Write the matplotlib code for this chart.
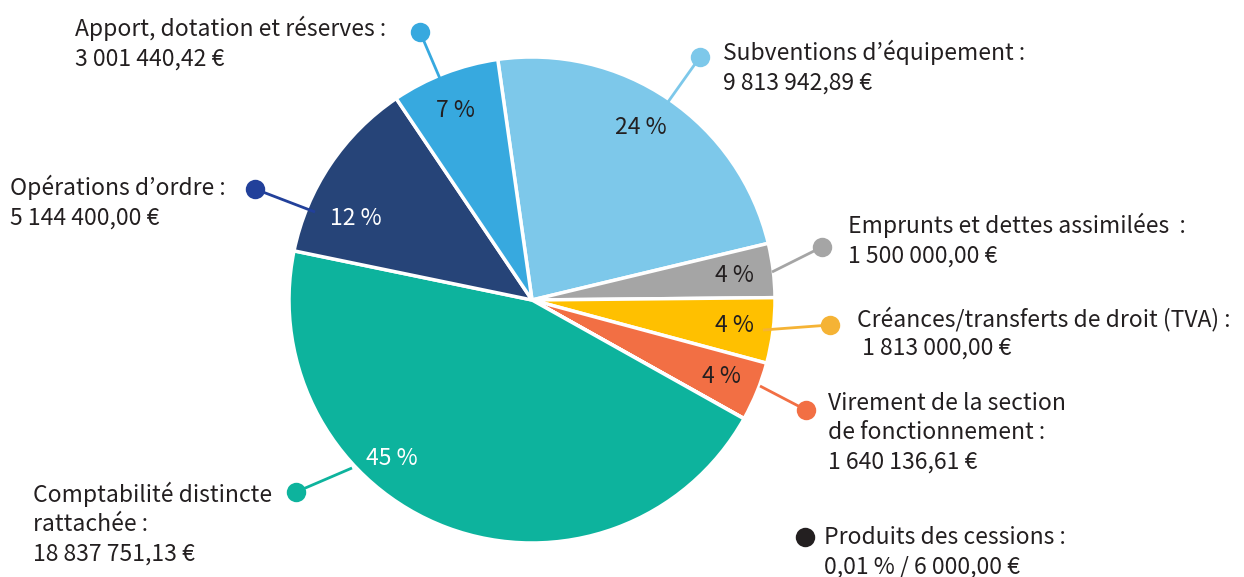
import matplotlib
matplotlib.use("Agg")
import matplotlib.pyplot as plt
import numpy as np

plt.rcParams['font.family'] = ['Noto Sans CJK KR', 'DejaVu Sans']

# données (sens horaire depuis le haut)
postes = ["Subventions d’équipement", "Emprunts et dettes assimilées", "Créances/transferts de droit (TVA)",
          "Virement de la section de fonctionnement", "Produits des cessions",
          "Comptabilité distincte rattachée", "Opérations d’ordre", "Apport, dotation et réserves"]
montants = [9813942.89, 1500000.00, 1813000.00, 1640136.61, 6000.00, 18837751.13, 5144400.00, 3001440.42]
couleurs = ["#7DC8EA", "#A5A5A5", "#FFC000", "#F26F44", "#231F20", "#0DB39D", "#264478", "#37A9DF"]
couleurs_point = ["#7DC8EA", "#A5A5A5", "#F5B335", "#F26F44", "#231F20", "#0DB39D", "#22409A", "#37A9DF"]
etiquettes = ["Subventions d’équipement :\n9 813 942,89 €",
              "Emprunts et dettes assimilées  :\n1 500 000,00 €",
              "Créances/transferts de droit (TVA) :\n 1 813 000,00 €",
              "Virement de la section\nde fonctionnement :\n1 640 136,61 €",
              "Produits des cessions :\n0,01 % / 6 000,00 €",
              "Comptabilité distincte\nrattachée :\n18 837 751,13 €",
              "Opérations d’ordre :\n5 144 400,00 €",
              "Apport, dotation et réserves :\n3 001 440,42 €"]

W, H = 1244, 577
fig = plt.figure(figsize=(W / 100, H / 100), dpi=100)
ax = fig.add_axes([0, 0, 1, 1])

cx, cy, R = 532, H - 300, 243
total = sum(montants)
wedges, _ = ax.pie(montants, colors=couleurs, startangle=98.1, counterclock=False,
                   center=(cx, cy), radius=R, frame=True,
                   wedgeprops=dict(edgecolor="white", linewidth=2.5))
ax.set_xlim(0, W)
ax.set_ylim(0, H)
ax.axis("off")

# pourcentages dans les parts
decal_angle = [2, 0, 0, 0, None, -21, 9, 1]
dist_pct = [0.84, 0.84, 0.84, 0.84, 0, 0.87, 0.80, 0.84]
col_pct = ["#231F20", "#231F20", "#231F20", "#231F20", None, "white", "white", "#231F20"]
for w, v, d, r, c in zip(wedges, montants, decal_angle, dist_pct, col_pct):
    if d is None:
        continue
    a = np.deg2rad((w.theta1 + w.theta2) / 2 + d)
    ax.text(cx + r * R * np.cos(a), cy + r * R * np.sin(a), f"{round(100 * v / total):d} %",
            ha="center", va="center", fontsize=16.5, color=c)

# étiquettes avec point et trait (positions en pixels de l'image)
point = [(700, 57), (822, 247), (830, 325), (806, 410), (805, 537), (296, 492), (255, 189), (420, 32)]
trait = [(668, 102), (772, 272), (763, 330), (760, 386), None, (352, 468), (315, 212), (444, 88)]
texte = [(723, 40), (848, 213), (857, 306), (828, 392), (824, 526), (33, 482), (10, 175), (75, 16)]
for lab, p, t, xy, c in zip(etiquettes, point, trait, texte, couleurs_point):
    if t is not None:
        ax.plot([p[0], t[0]], [H - p[1], H - t[1]], color=c, lw=2, solid_capstyle="butt")
    ax.plot(p[0], H - p[1], "o", ms=14, color=c, mec="none")
    ax.text(xy[0], H - xy[1], lab, ha="left", va="top", fontsize=16.5, color="#231F20",
            linespacing=1.34)

fig.savefig("out.png", dpi=100)
